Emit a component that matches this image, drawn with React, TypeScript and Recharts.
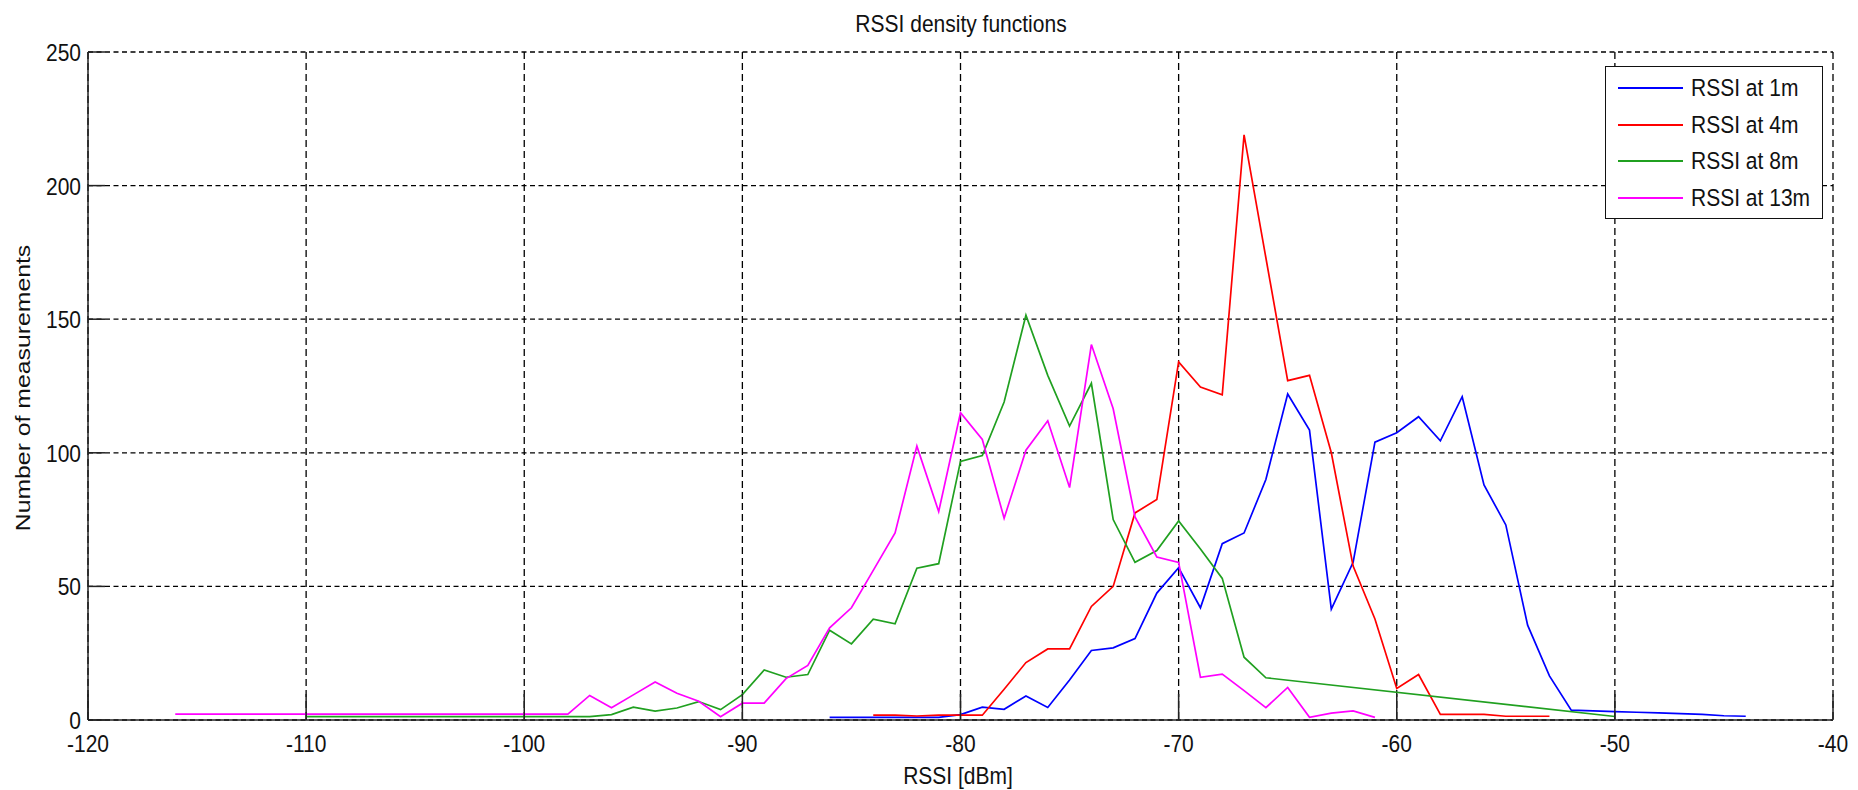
import { LineChart, Line, XAxis, YAxis, CartesianGrid, Legend } from 'recharts';

// RSSI histogram counts
const RSSI_1M = [-86, -85, -84, -83, -82, -81, -80, -79, -78, -77, -76, -75, -74, -73, -72, -71, -70, -69, -68, -67, -66, -65, -64, -63, -62, -61, -60, -59, -58, -57, -56, -55, -54, -53, -52, -51, -50, -49, -48, -47, -46, -45, -44];
const COUNT_1M = [1, 1, 1, 1, 1, 1, 2, 4.8, 4, 9, 4.7, 15, 26, 27, 30.5, 47.5, 57, 42, 66, 70, 90, 122, 108.5, 41.5, 59, 104, 107.5, 113.5, 104.5, 121, 88, 73, 35.5, 16.5, 3.7, 3.4, 3.1, 2.9, 2.7, 2.4, 2.1, 1.6, 1.4];

const RSSI_4M = [-84, -83, -82, -81, -80, -79, -78, -77, -76, -75, -74, -73, -72, -71, -70, -69, -68, -67, -66, -65, -64, -63, -62, -61, -60, -59, -58, -57, -56, -55, -54, -53];
const COUNT_4M = [1.8, 1.8, 1.5, 1.8, 1.8, 1.8, 11.5, 21.5, 26.6, 26.6, 42.5, 50, 77.5, 82.5, 134, 124.6, 121.7, 219, 173, 127, 129, 100, 57.6, 37.8, 11.8, 17, 2.1, 2.1, 2.1, 1.4, 1.4, 1.4];

const RSSI_8M = [-110, -97, -96, -95, -94, -93, -92, -91, -90, -89, -88, -87, -86, -85, -84, -83, -82, -81, -80, -79, -78, -77, -76, -75, -74, -73, -72, -71, -70, -69, -68, -67, -66, -50];
const COUNT_8M = [1.3, 1.3, 2, 4.8, 3.3, 4.5, 6.9, 3.9, 9.5, 18.7, 16, 17, 33.6, 28.5, 37.7, 36, 56.8, 58.5, 96.8, 99, 119, 151.5, 129, 110, 126, 75, 59, 63.4, 74.5, 64, 53, 23.5, 15.8, 1.3];

const RSSI_13M = [-116, -98, -97, -96, -95, -94, -93, -92, -91, -90, -89, -88, -87, -86, -85, -84, -83, -82, -81, -80, -79, -78, -77, -76, -75, -74, -73, -72, -71, -70, -69, -68, -67, -66, -65, -64, -63, -62, -61];
const COUNT_13M = [2.2, 2.2, 9.2, 4.6, 9.4, 14.2, 10, 7, 1.2, 6.3, 6.3, 15.5, 20.4, 34.5, 42, 56, 70, 102.5, 78, 115, 105, 75.5, 101, 112, 87, 140.5, 116.5, 76, 61, 59, 16, 17.2, 11, 4.6, 12.2, 1, 2.6, 3.4, 1];

const X_TICKS = [-120, -110, -100, -90, -80, -70, -60, -50, -40];
const Y_TICKS = [0, 50, 100, 150, 200, 250];

const SERIES_NAMES = ['RSSI at 1m', 'RSSI at 4m', 'RSSI at 8m', 'RSSI at 13m'];
const SERIES_COLORS = ['#0000ff', '#ff0000', '#20a020', '#ff00ff'];

const W = 1858;
const H = 790;
const PLOT_LEFT = 88;
const PLOT_RIGHT = 1833;
const PLOT_TOP = 52;
const PLOT_BOTTOM = 720;
const FONT = "'Liberation Sans', Arial, sans-serif";
const STRETCH = 1.18; // the reference text is a bit taller than wide

const toPoints = (xs: number[], ys: number[]) => xs.map((rssi, i) => ({ rssi, count: ys[i] }));

const SERIES = [
  toPoints(RSSI_1M, COUNT_1M),
  toPoints(RSSI_4M, COUNT_4M),
  toPoints(RSSI_8M, COUNT_8M),
  toPoints(RSSI_13M, COUNT_13M),
];

function XTick(props: any) {
  const { x, payload } = props;
  return (
    <g>
      <line x1={x} x2={x} y1={PLOT_BOTTOM} y2={PLOT_BOTTOM - 26} stroke="#222" strokeWidth={1.5} />
      <text
        transform={`translate(${x} 743) scale(1 ${STRETCH})`}
        textAnchor="middle"
        dy="0.36em"
        fontSize={21}
        fontFamily={FONT}
        fill="#111"
      >
        {payload.value}
      </text>
    </g>
  );
}

function YTick(props: any) {
  const { y, payload } = props;
  return (
    <g>
      <line x1={PLOT_LEFT} x2={PLOT_LEFT + 17} y1={y} y2={y} stroke="#222" strokeWidth={1.5} />
      <text
        transform={`translate(${PLOT_LEFT - 7} ${y}) scale(1 ${STRETCH})`}
        textAnchor="end"
        dy="0.36em"
        fontSize={21}
        fontFamily={FONT}
        fill="#111"
      >
        {payload.value}
      </text>
    </g>
  );
}

function LegendBox({ payload }: any) {
  // keep the plotting order, not the alphabetical one
  const items = [...(payload || [])].sort(
    (a: any, b: any) => SERIES_NAMES.indexOf(a.value) - SERIES_NAMES.indexOf(b.value)
  );
  return (
    <div
      style={{
        width: 218,
        height: 153,
        border: '1.5px solid #111',
        boxSizing: 'border-box',
        background: '#fff',
        position: 'relative',
        fontFamily: FONT,
      }}
    >
      {items.map((entry: any, i: number) => (
        <div
          key={entry.value}
          style={{
            position: 'absolute',
            left: 12,
            top: 21 + i * 36.7 - 12,
            height: 24,
            display: 'flex',
            alignItems: 'center',
            whiteSpace: 'nowrap',
          }}
        >
          <span style={{ display: 'inline-block', width: 65, borderTop: `2px solid ${entry.color}` }} />
          <span
            style={{
              marginLeft: 8,
              fontSize: 21,
              color: '#111',
              display: 'inline-block',
              transform: `scaleY(${STRETCH})`,
            }}
          >
            {entry.value}
          </span>
        </div>
      ))}
    </div>
  );
}

const labelStyle = {
  position: 'absolute' as const,
  fontFamily: FONT,
  fontSize: 21,
  lineHeight: 1,
  color: '#111',
  whiteSpace: 'nowrap' as const,
};

export default function App() {
  return (
    <div style={{ position: 'absolute', left: 0, top: 0, width: W, height: H, background: '#fff' }}>
      <LineChart
        width={W}
        height={H}
        margin={{ top: PLOT_TOP, right: W - PLOT_RIGHT, bottom: 0, left: 0 }}
      >
        <CartesianGrid horizontal={true} vertical={false} stroke="#000" strokeWidth={1.3} strokeDasharray="5 3.5" />
        <CartesianGrid horizontal={false} vertical={true} stroke="#000" strokeWidth={1.3} strokeDasharray="7 4" />
        <XAxis
          type="number"
          dataKey="rssi"
          domain={[-120, -40]}
          ticks={X_TICKS}
          allowDataOverflow
          height={H - PLOT_BOTTOM}
          tickLine={false}
          axisLine={{ stroke: '#222', strokeWidth: 1.5 }}
          tick={<XTick />}
          interval={0}
        />
        <YAxis
          type="number"
          dataKey="count"
          domain={[0, 250]}
          ticks={Y_TICKS}
          allowDataOverflow
          width={PLOT_LEFT}
          tickLine={false}
          axisLine={{ stroke: '#222', strokeWidth: 1.5 }}
          tick={<YTick />}
          interval={0}
        />
        <Legend
          layout="horizontal"
          verticalAlign="middle"
          align="center"
          wrapperStyle={{ position: 'absolute', left: 1605, top: 66, width: 218, height: 153 }}
          content={<LegendBox />}
        />
        {SERIES.map((data, i) => (
          <Line
            key={SERIES_NAMES[i]}
            data={data}
            dataKey="count"
            name={SERIES_NAMES[i]}
            type="linear"
            stroke={SERIES_COLORS[i]}
            strokeWidth={1.7}
            dot={false}
            activeDot={false}
            isAnimationActive={false}
          />
        ))}
      </LineChart>
      <div style={{ ...labelStyle, left: 961, top: 23, transform: `translate(-50%, -50%) scaleY(${STRETCH})` }}>
        RSSI density functions
      </div>
      <div style={{ ...labelStyle, left: 958, top: 775, transform: `translate(-50%, -50%) scaleY(${STRETCH})` }}>
        RSSI [dBm]
      </div>
      <div
        style={{
          ...labelStyle,
          left: 22,
          top: 388,
          transform: `translate(-50%, -50%) rotate(-90deg) scaleX(${STRETCH})`,
        }}
      >
        Number of measurements
      </div>
    </div>
  );
}
